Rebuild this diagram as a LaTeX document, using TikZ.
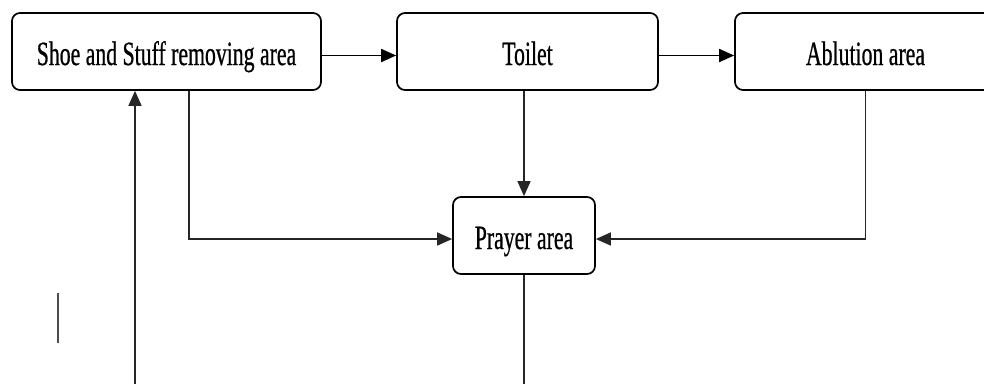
\documentclass[tikz,border=0pt]{standalone}
\usepackage{fontspec}
\setmainfont{Liberation Serif}[FakeStretch=0.64,FakeBold=0.6]
\usetikzlibrary{arrows.meta,calc}
\begin{document}
\begin{tikzpicture}[x=1pt,y=-1pt,
  areabox/.style={draw=black,line width=1.7pt,rounded corners=8pt,fill=white,
    minimum height=77pt,inner sep=0pt,text height=27pt,text depth=0pt,
    font=\fontsize{34}{38}\selectfont},
  flow/.style={line width=1.4pt,draw=black!85,-{Triangle[length=15pt,width=13pt]}},
  mainflow/.style={flow,line width=1.9pt,draw=black}]
\clip (0,0) rectangle (984,383);
\fill[white] (0,0) rectangle (984,383);
\node[areabox,minimum width=309pt] (A) at (166.5,51.5) {Shoe and Stuff removing area};
\node[areabox,minimum width=261pt] (B) at (527.5,51.5) {Toilet};
\node[areabox,minimum width=261pt] (C) at (865.5,51.5) {Ablution area};
\node[areabox,minimum width=142pt] (P) at (524,235.5) {Prayer area};
\coordinate (loopL) at (135,400);
\draw[mainflow] ([yshift=-4pt]A.east) -- ([yshift=-4pt]B.west);
\draw[mainflow] ([yshift=-4pt]B.east) -- ([yshift=-4pt]C.west);
\draw[flow] (B.south -| P.north) -- (P.north);
\draw[flow] ([xshift=22.5pt]A.south) |- ([yshift=-3.5pt]P.west);
\draw[flow] (C.south) |- ([yshift=-3.5pt]P.east);
\draw[flow] (P.south) -- (P.south |- loopL) -- (loopL) -- (loopL |- A.south);
\coordinate (s1) at (58,293);
\coordinate (s2) at (58,343);
\draw[line width=1.2pt,black!70] (s1) -- (s2);
\end{tikzpicture}
\end{document}
